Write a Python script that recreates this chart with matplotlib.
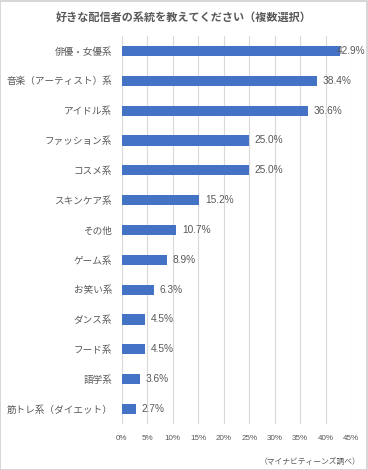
import matplotlib
matplotlib.use("Agg")
import matplotlib.pyplot as plt
from matplotlib.patches import Rectangle
from matplotlib.ticker import MultipleLocator, FuncFormatter

plt.rcParams["font.family"] = ["Noto Sans CJK JP", "DejaVu Sans"]
NUM_FONT = ["Liberation Sans", "DejaVu Sans"]

categories = ["俳優・女優系", "音楽（アーティスト）系", "アイドル系", "ファッション系", "コスメ系",
              "スキンケア系", "その他", "ゲーム系", "お笑い系", "ダンス系", "フード系", "語学系",
              "筋トレ系（ダイエット）"]
values = [42.9, 38.4, 36.6, 25.0, 25.0, 15.2, 10.7, 8.9, 6.3, 4.5, 4.5, 3.6, 2.7]

GREY = "#595959"
BLUE = "#4472C4"

fig = plt.figure(figsize=(3.68, 4.70), dpi=100)
ax = fig.add_axes([0.3315, 0.098, 0.6223, 0.8254])

ys = list(range(len(categories)))
ax.barh(ys, values, height=0.34, color=BLUE, zorder=3)
ax.set_ylim(len(categories) - 0.5, -0.5)
ax.set_xlim(0, 45)
ax.xaxis.set_major_locator(MultipleLocator(5))
ax.xaxis.set_major_formatter(FuncFormatter(lambda v, p: f"{v:.0f}%"))
ax.grid(axis="x", color="#D9D9D9", lw=0.8, zorder=0)
ax.set_yticks(ys)
ax.set_yticklabels(categories, fontsize=6.9, color=GREY)
ax.tick_params(axis="y", length=0, pad=7)
ax.tick_params(axis="x", length=0, pad=8, labelcolor=GREY)
for lbl in ax.get_xticklabels():
    lbl.set_fontfamily(NUM_FONT)
    lbl.set_fontsize(5.8)
for sp in ax.spines.values():
    sp.set_visible(False)

for y, v in zip(ys, values):
    ax.text(min(v + 1.1, 42.3), y, f"{v:.1f}%", va="center", ha="left",
            fontsize=7.3, color=GREY, zorder=4, clip_on=False, family=NUM_FONT)

fig.text(0.5, 1 - 17 / 470, "好きな配信者の系統を教えてください（複数選択）", ha="center", va="center",
         fontsize=8, fontweight="bold", color=GREY)
fig.text(0.978, 1 - 462 / 470, "（マイナビティーンズ調べ）", ha="right", va="center",
         fontsize=5.6, color=GREY)
fig.patches.append(Rectangle((0.001, 0.001), 0.997, 0.997, transform=fig.transFigure,
                             fill=False, ec="#D0D0D0", lw=1.2))

fig.savefig("out.png", dpi=100, facecolor="white")
